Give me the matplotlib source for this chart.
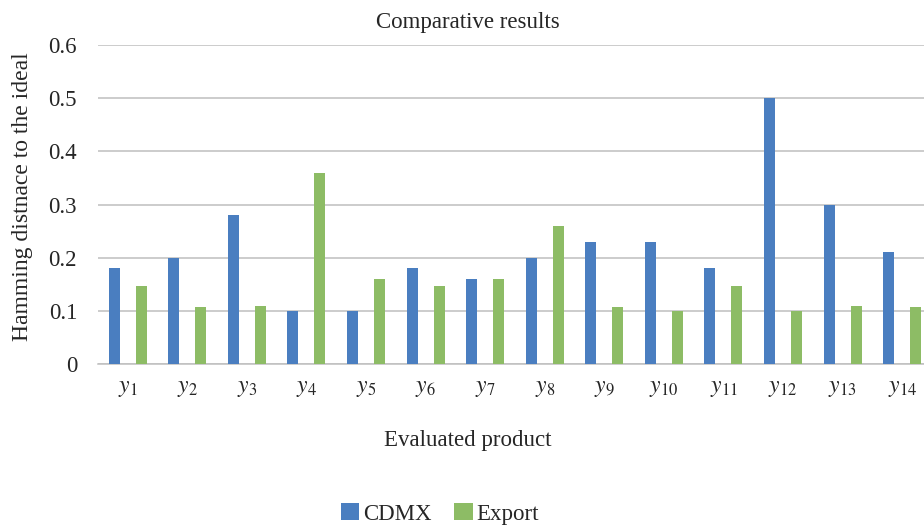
import matplotlib.pyplot as plt
import numpy as np

# 每个产品的 Hamming 距离
products = ['$y_{%d}$' % i for i in range(1, 15)]
cdmx = [0.18, 0.20, 0.28, 0.10, 0.10, 0.18, 0.16, 0.20, 0.23, 0.23, 0.18, 0.50, 0.30, 0.21]
export = [0.147, 0.108, 0.11, 0.36, 0.16, 0.147, 0.16, 0.26, 0.108, 0.10, 0.147, 0.10, 0.11, 0.108]
yticks = [0, 0.1, 0.2, 0.3, 0.4, 0.5, 0.6]
ytick_labels = ['0', '0.1', '0.2', '0.3', '0.4', '0.5', '0.6']

plt.rcParams['font.family'] = 'Liberation Serif'
plt.rcParams['mathtext.fontset'] = 'stix'

fig = plt.figure(figsize=(9.24, 5.27), dpi=100)
ax = fig.add_axes([0.106, 0.309, 0.9026, 0.6056])

x = np.arange(len(products))
w = 0.185
ax.bar(x - 0.2265, cdmx, w, color='#4A7EC0', label='CDMX', zorder=3)
ax.bar(x + 0.2265, export, w, color='#8DBC65', label='Export', zorder=3)

ax.set_xlim(-0.5, len(products) - 0.5)
ax.set_ylim(0, 0.6)
ax.set_yticks(yticks)
ax.set_yticklabels(ytick_labels)
ax.set_xticks(x)
ax.set_xticklabels(products, fontsize=17)
ax.tick_params(axis='y', length=0, pad=15, labelsize=16.5, colors='#262626')
ax.tick_params(axis='x', length=0, pad=10, colors='#262626')

# 网格线
ax.grid(axis='y', color='#BFBFBF', linewidth=1.1, zorder=0)
for s in ['top', 'right', 'left']:
    ax.spines[s].set_visible(False)
ax.spines['bottom'].set_color('#BFBFBF')
ax.spines['bottom'].set_linewidth(1.1)

fig.text(0.506, 0.958, 'Comparative results', ha='center', va='center', fontsize=16.5, color='#262626')
fig.text(0.024, 0.626, 'Hamming distnace to the ideal', ha='center', va='center',
         rotation=90, fontsize=17, color='#262626')
fig.text(0.506, 0.165, 'Evaluated product', ha='center', va='center', fontsize=16.5, color='#262626')

fig.legend(loc='center', bbox_to_anchor=(0.476, 0.025), ncol=2, frameon=False,
           fontsize=16.5, handlelength=0.8, handleheight=0.8, handletextpad=0.15,
           columnspacing=1.0, labelcolor='#262626')

plt.savefig('out.png', dpi=100)
